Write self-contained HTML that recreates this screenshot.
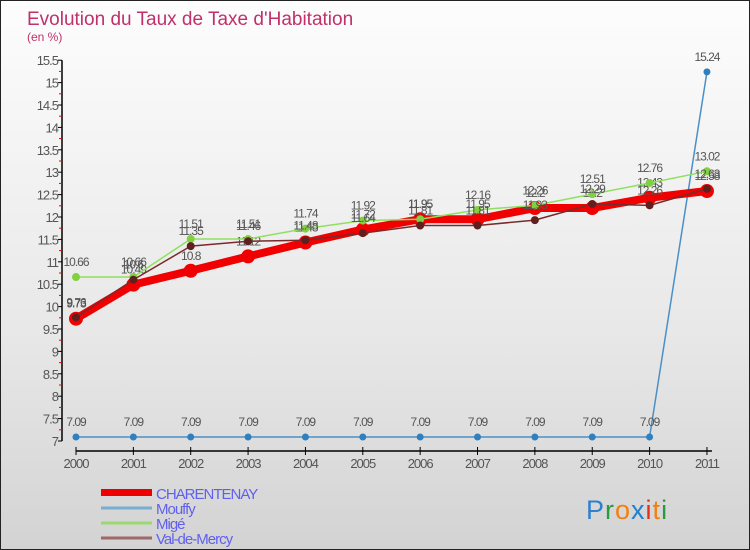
<!DOCTYPE html>
<html><head><meta charset="utf-8"><style>
body{margin:0}
#wrap{width:750px;height:550px;position:relative;overflow:hidden;background:linear-gradient(#fdfdfd 0%,#e8e8e8 60%,#d3d3d3 100%);font-family:"Liberation Sans",sans-serif;box-sizing:border-box;border:1px solid #222}
</style></head><body>
<div id="wrap">
<svg id="svg" width="750" height="550"></svg>
</div>
<script>
const years=["2000","2001","2002","2003","2004","2005","2006","2007","2008","2009","2010","2011"];
const yTicks=[7,7.5,8,8.5,9,9.5,10,10.5,11,11.5,12,12.5,13,13.5,14,14.5,15,15.5];
const charentenay=[9.73,10.49,10.8,11.12,11.43,11.72,11.95,11.95,12.2,12.2,12.43,12.58];
const mouffy=[7.09,7.09,7.09,7.09,7.09,7.09,7.09,7.09,7.09,7.09,7.09,15.24];
const mige=[10.66,10.66,11.51,11.51,11.74,11.92,11.95,12.16,12.26,12.51,12.76,13.02];
const valdemercy=[9.76,10.6,11.35,11.46,11.48,11.64,11.81,11.81,11.93,12.29,12.26,12.63];
const NS="http://www.w3.org/2000/svg";
const svg=document.getElementById('svg');
const X=i=>75+i*57.36;
const Y=v=>440-(v-7)*44.8;
function el(t,a,p){const e=document.createElementNS(NS,t);for(const k in a)e.setAttribute(k,a[k]);(p||svg).appendChild(e);return e;}
function txt(x,y,s,a,p){const e=el('text',Object.assign({x:x,y:y},a),p);e.textContent=s;return e;}
let t=txt(26,24,"Evolution du Taux de Taxe d'Habitation",{fill:'#c0306a','font-size':19,'font-weight':'lighter'});


t=txt(26,40,"(en %)",{fill:'#c0306a','font-size':12});


let ax=el('line',{x1:61,y1:Y(15.5),x2:61,y2:Y(7),stroke:'#000','stroke-width':1.5});


yTicks.forEach(v=>{
 el('line',{x1:57,x2:61,y1:Y(v),y2:Y(v),stroke:'#000'});
 if(v<15.5) el('line',{x1:58,x2:61,y1:Y(v+0.25),y2:Y(v+0.25),stroke:'#e00'});
 const l=txt(57,Y(v)+5,String(v),{'text-anchor':'end','font-size':13,fill:'#555','letter-spacing':'-1'});
 
 
});
ax=el('line',{x1:X(0),y1:450,x2:X(11)+5,y2:450,stroke:'#000','stroke-width':1.5});


years.forEach((y,i)=>{
 el('line',{x1:X(i),x2:X(i),y1:446,y2:454,stroke:'#000'});
 const l=txt(X(i),467,y,{'text-anchor':'middle','font-size':13,fill:'#555','letter-spacing':'-1'});
 
 
});
function series(data,color,w,r,mc,name){
 const g=el('g',{});
 
 
 el('polyline',{points:data.map((v,i)=>X(i)+','+Y(v)).join(' '),fill:'none',stroke:color,'stroke-width':w,'stroke-linejoin':'round'},g);
 data.forEach((v,i)=>{
  const c=el('circle',{cx:X(i),cy:Y(v),r:r,fill:mc},g);
  
  
  const l=txt(X(i),Y(v)-11,String(v),{'text-anchor':'middle','font-size':12,fill:'#555','letter-spacing':'-1'},g);
  
  
 });
}
series(mouffy,'#4a90c8',1.5,3.5,'#3080c0','mouffy');
series(charentenay,'#f00000',8,7,'#f00000','charentenay');
series(mige,'#90e060',1.5,4,'#80d040','mige');
series(valdemercy,'#7a2a2a',1.5,4,'#602020','val-de-mercy');
const legNames=["CHARENTENAY","Mouffy","Migé","Val-de-Mercy"];
const legColors=['#e00','#7aaed0','#9ad870','#a06868'];
legNames.forEach((n,i)=>{
 const y=492+i*15;
 const g=el('g',{});
 
 
 el('rect',{x:100,y:y-(i==0?4:1.5),width:51,height:i==0?7:3,fill:legColors[i]},g);
 txt(155,y+6,n,{'font-size':15,fill:'#6060f0','letter-spacing':'-1'},g);
});
const lg=el('text',{x:585,y:518,'font-size':27,'letter-spacing':'1'});


[['P','#3080d0'],['r','#2a9a40'],['o','#f08010'],['x','#2080d0'],['i','#e03020'],['t','#f08010'],['i','#2a9a40']].forEach(([c,col])=>{const s=el('tspan',{fill:col},lg);s.textContent=c;});
</script>
</body></html>
